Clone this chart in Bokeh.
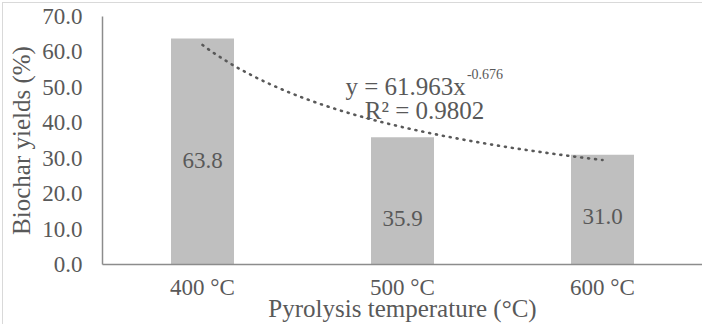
import numpy as np
from bokeh.plotting import figure
from bokeh.models import Label, LabelSet, FixedTicker, Range1d, ColumnDataSource, PrintfTickFormatter
from bokeh.core.properties import value
from bokeh.embed import file_html
from bokeh.resources import INLINE

# ---- data ----
categories = ["400 °C", "500 °C", "600 °C"]
biochar_yields = [63.8, 35.9, 31.0]
y_ticks = [0, 10, 20, 30, 40, 50, 60, 70]
trend_coef = 61.963
trend_exp = -0.676
r_squared = 0.9802

FONT = "Times New Roman"
TXT = "#595959"

x_pos = [1, 2, 3]
# vertical placement of the data labels inside the bars (layout, in axis units)
label_y = [29.4, 13.0, 13.5]

p = figure(frame_width=600, frame_height=248, output_backend="svg", toolbar_location=None,
           x_range=Range1d(0.5, 3.5), y_range=Range1d(0, 70),
           min_border_left=99, min_border_right=0, min_border_top=13, min_border_bottom=56)
p.styles = {"margin-left": "2px", "margin-top": "2px",
            "border-left": "1px solid #D9D9D9", "border-top": "1px solid #D9D9D9"}
p.outline_line_color = None
p.xgrid.visible = False
p.ygrid.visible = False
p.background_fill_color = "white"
p.border_fill_color = "white"

# bars
src = ColumnDataSource(dict(x=x_pos, top=biochar_yields, ly=label_y,
                            lab=["%.1f" % v for v in biochar_yields]))
p.vbar(x="x", top="top", width=0.315, source=src, fill_color="#BFBFBF", line_color=None)

p.add_layout(LabelSet(x="x", y="ly", text="lab", source=src, text_align="center",
                      text_baseline="middle", text_font=value(FONT),
                      text_font_size="23px", text_color=TXT))

# power trendline (as shown in the chart: y = 61.963 x^-0.676)
xs = np.linspace(1, 3, 200)
ys = trend_coef * xs ** trend_exp
p.line(xs, ys, line_dash="1 6", line_width=2.6, line_cap="round", line_color="#595959")

# equation text
p.add_layout(Label(x=1.715, y=50.2, text="y = %.3fx" % trend_coef,
                   text_font=FONT, text_font_size="25px", text_color=TXT,
                   text_align="left", text_baseline="alphabetic"))
p.add_layout(Label(x=2.322, y=53.9, text="%.3f" % trend_exp,
                   text_font=FONT, text_font_size="14px", text_color=TXT,
                   text_align="left", text_baseline="alphabetic"))
p.add_layout(Label(x=2.11, y=43.6, text="R² = %.4f" % r_squared,
                   text_font=FONT, text_font_size="25px", text_color=TXT,
                   text_align="center", text_baseline="alphabetic"))

# axes
for ax in (p.xaxis[0], p.yaxis[0]):
    ax.axis_line_color = "#8C8C8C"
    ax.axis_line_width = 1.5
    ax.major_tick_out = 0
    ax.major_tick_in = 0
    ax.minor_tick_out = 0
    ax.minor_tick_in = 0
    ax.major_label_text_font = FONT
    ax.major_label_text_font_size = "23px"
    ax.major_label_text_color = TXT
    ax.axis_label_text_font = FONT
    ax.axis_label_text_font_size = "25px"
    ax.axis_label_text_font_style = "normal"
    ax.axis_label_text_color = TXT

p.yaxis.ticker = FixedTicker(ticks=y_ticks)
p.yaxis.formatter = PrintfTickFormatter(format="%.1f")
p.yaxis.major_label_standoff = 20
p.yaxis.axis_label = "Biochar yields (%)"
p.yaxis.axis_label_standoff = 4

p.xaxis.ticker = FixedTicker(ticks=x_pos)
p.xaxis.major_label_overrides = {x: c for x, c in zip(x_pos, categories)}
p.xaxis.major_label_standoff = 10
p.xaxis.axis_label = "Pyrolysis temperature (°C)"
p.xaxis.axis_label_standoff = -8

open("out.html", "w").write(file_html(p, INLINE))
